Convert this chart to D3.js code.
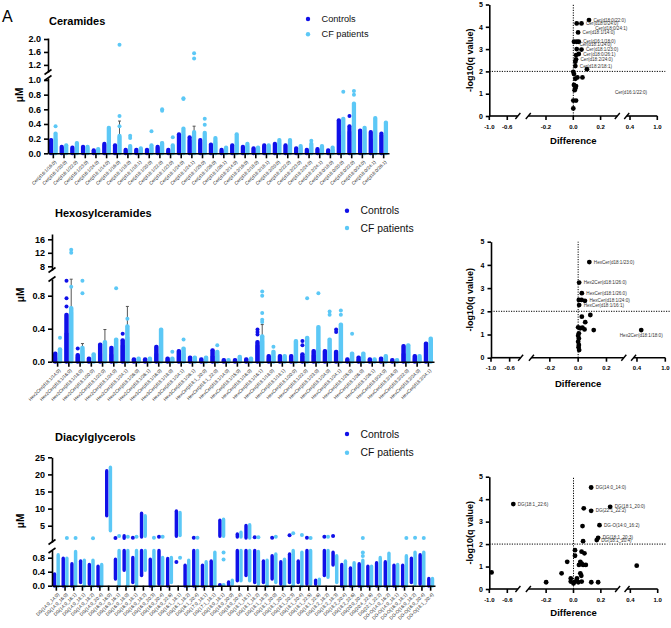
<!DOCTYPE html>
<html><head><meta charset="utf-8">
<script src="https://cdn.jsdelivr.net/npm/d3@7"></script>
<style>body{margin:0;background:#fff}svg{display:block}</style>
</head><body><svg id="c" width="671" height="628"></svg>
<script>
const CTRL = "#1010e8", CF = "#5cc8f6", FONT = "'Liberation Sans', Arial, Helvetica, sans-serif";

// ---------- Ceramides ----------
const cerCats = ["Cer(d16:1/16:0)","Cer(d16:1/20:0)","Cer(d16:1/22:0)","Cer(d16:1/23:0)","Cer(d16:1/24:0)","Cer(d18:1/14:0)","Cer(d18:1/16:0)","Cer(d18:1/18:0)","Cer(d18:1/18:1)","Cer(d18:1/20:0)","Cer(d18:1/22:0)","Cer(d18:1/23:0)","Cer(d18:1/24:0)","Cer(d18:1/24:1)","Cer(d18:1/25:0)","Cer(d18:1/26:0)","Cer(d18:1/26:1)","Cer(d18:2/14:0)","Cer(d18:2/16:0)","Cer(d18:2/18:0)","Cer(d18:2/18:1)","Cer(d18:2/20:0)","Cer(d18:2/22:0)","Cer(d18:2/23:0)","Cer(d18:2/24:0)","Cer(d18:2/24:1)","Cer(d18:0/18:0)","Cer(d18:0/20:0)","Cer(d18:0/22:0)","Cer(d18:0/24:0)","Cer(d18:0/24:1)","Cer(d18:0/26:1)"];
const cerCtrlMean = [0.17,0.08,0.07,0.08,0.03,0.12,0.10,0.04,0.05,0.05,0.08,0.04,0.22,0.18,0.15,0.11,0.04,0.10,0.08,0.06,0.10,0.12,0.10,0.06,0.05,0.06,0.04,0.25,0.30,0.28,0.20,0.25];
const cerCfMean   = [0.20,0.09,0.10,0.08,0.05,0.18,0.23,0.07,0.06,0.08,0.12,0.08,0.26,0.29,0.18,0.16,0.06,0.16,0.10,0.07,0.10,0.14,0.14,0.08,0.09,0.08,0.06,0.30,0.40,0.30,0.30,0.30];
const cerCtrlHi   = [0.18,0.09,0.08,0.09,0.04,0.13,0.11,0.05,0.05,0.05,0.09,0.05,0.26,0.22,0.18,0.12,0.05,0.11,0.09,0.07,0.11,0.13,0.11,0.07,0.05,0.06,0.04,0.45,0.37,0.31,0.29,0.27];
const cerCfHi     = [0.27,0.11,0.14,0.09,0.06,0.35,0.24,0.10,0.07,0.11,0.14,0.11,0.34,0.29,0.28,0.21,0.08,0.26,0.13,0.08,0.11,0.18,0.18,0.10,0.13,0.10,0.08,0.47,0.68,0.35,0.48,0.42];
const cerCtrlPts  = [[28,0.51]];
const cerCfPts    = [[0,0.37],[6,1.82],[6,0.51],[6,0.37],[7,0.24],[7,0.21],[9,0.30],[10,0.60],[10,0.58],[11,0.22],[12,0.75],[12,0.74],[13,1.56],[13,1.40],[14,0.47],[14,0.39],[24,0.17],[27,0.84],[28,0.85],[28,0.80]];
const cerCfErr    = [[6,0.44],[10,0.15],[13,0.37]];

// ---------- Hexosylceramides ----------
const hexCats = ["Hex2Cer(d18:1/14:0)","Hex2Cer(d18:1/16:0)","Hex2Cer(d18:1/18:0)","Hex2Cer(d18:1/20:0)","Hex2Cer(d18:1/22:0)","Hex2Cer(d18:1/24:0)","Hex2Cer(d18:1/24:1)","Hex2Cer(d18:1/26:0)","Hex2Cer(d18:1/26:1)","Hex3Cer(d18:1/16:0)","Hex3Cer(d18:1/18:0)","Hex3Cer(d18:1/24:1)","Hex3Cer(d18:1/26:1)","HexCer(d18:1_20:0)","HexCer(d18:1_22:0)","HexCer(d18:1/14:0)","HexCer(d18:1/15:0)","HexCer(d18:1/16:0)","HexCer(d18:1/16:1)","HexCer(d18:1/18:0)","HexCer(d18:1/18:1)","HexCer(d18:1/20:0)","HexCer(d18:1/22:0)","HexCer(d18:1/23:0)","HexCer(d18:1/24:0)","HexCer(d18:1/24:1)","HexCer(d18:1/25:0)","HexCer(d18:1/26:0)","HexCer(d18:1/26:1)","HexCer(d18:0/24:0)","HexCer(d18:2/16:0)","HexCer(d18:2/22:0)","HexCer(d18:2/24:0)","HexCer(d18:2/24:1)"];
const hexCtrlMean = [0.05,0.35,0.06,0.03,0.10,0.09,0.20,0.02,0.02,0.10,0.03,0.07,0.03,0.02,0.07,0.01,0.01,0.02,0.20,0.04,0.04,0.04,0.07,0.08,0.07,0.10,0.02,0.03,0.02,0.02,0.01,0.10,0.04,0.12];
const hexCfMean   = [0.08,0.60,0.14,0.05,0.18,0.15,0.30,0.03,0.03,0.20,0.03,0.10,0.03,0.03,0.08,0.01,0.03,0.03,0.25,0.07,0.05,0.10,0.15,0.17,0.15,0.10,0.06,0.06,0.02,0.04,0.01,0.12,0.05,0.15];
const hexCtrlHi   = [0.10,0.57,0.08,0.04,0.21,0.17,0.26,0.03,0.03,0.18,0.04,0.13,0.05,0.03,0.14,0.02,0.02,0.03,0.24,0.07,0.07,0.07,0.09,0.13,0.13,0.12,0.03,0.05,0.03,0.04,0.02,0.19,0.07,0.22];
const hexCfHi     = [0.15,0.65,0.17,0.09,0.24,0.27,0.43,0.04,0.04,0.39,0.04,0.16,0.05,0.05,0.12,0.02,0.06,0.04,0.31,0.12,0.07,0.25,0.29,0.42,0.27,0.45,0.10,0.10,0.03,0.07,0.02,0.20,0.07,0.28];
const hexCtrlPts  = [[1,0.98],[1,0.77],[1,0.67],[2,0.16],[6,0.34],[18,0.39],[18,0.36],[18,0.33],[22,0.25],[22,0.20],[25,0.39],[25,0.36]];
const hexCfPts    = [[0,0.29],[1,12.9],[1,12.0],[1,0.91],[2,0.98],[2,0.83],[5,0.89],[6,0.52],[10,0.12],[11,0.27],[14,0.20],[18,0.85],[18,0.80],[18,0.59],[18,0.51],[18,0.48],[19,0.18],[22,0.77],[23,0.83],[24,0.61],[24,0.57],[25,0.62],[25,0.57],[26,0.34]];
const hexCfErr    = [[1,1.0],[2,0.22],[4,0.39],[6,0.67],[18,0.45]];

// ---------- Diacylglycerols ----------
const dagCats = ["DG(14:0_14:0)","DG(14:0_16:0)","DG(14:0_16:1)","DG(14:0_18:1)","DG(14:0_18:2)","DG(14:0_20:4)","DG(16:0_16:0)","DG(16:0_16:1)","DG(16:0_18:0)","DG(16:0_18:1)","DG(16:0_18:2)","DG(16:0_20:3)","DG(16:0_20:4)","DG(16:0_22:6)","DG(16:1_18:1)","DG(16:1_18:2)","DG(16:1_20:4)","DG(17:0_18:1)","DG(17:1_18:1)","DG(18:0_18:1)","DG(18:0_20:0)","DG(18:0_20:4)","DG(18:1_18:1)","DG(18:1_18:2)","DG(18:1_18:3)","DG(18:1_20:0)","DG(18:1_20:1)","DG(18:1_20:3)","DG(18:1_20:4)","DG(18:1_22:5)","DG(18:1_22:6)","DG(18:2_18:2)","DG(18:2_18:3)","DG(18:2_20:4)","DG(18:2_22:6)","DG(20:0_20:4)","DG(20:4_22:6)","DG(22:1_22:2)","DG-O(14:0_16:2)","DG-O(14:0_18:1)","DG-O(16:0_18:1)","DG-O(16:0_18:2)","DG-O(16:0_20:4)","DG-O(18:1_20:4)"];
const dagCtrlLo = [0,0,0,0.1,0.05,0,null,0.2,0.45,0.1,0.3,0,0.05,0,null,0,0,0,0,null,0.02,0.15,0.3,0.1,0.1,0.2,0.05,0.1,0.1,0.05,0.05,0.3,0.6,0,0,0,0,0,0,0,0,0.1,0.05,0];
const dagCtrlHi = [0.33,0.78,0.62,0.70,0.60,0.55,null,0.75,1.0,0.80,1.0,0.75,1.0,0.77,null,0.58,1.0,0.58,0.70,null,0.10,1.0,1.0,1.0,0.70,0.85,0.68,0.90,0.70,1.0,0.15,1.0,0.95,0.60,0.50,0.62,0.55,0.65,0.68,0.58,0.58,0.78,0.88,0.20];
const dagCfLo   = [0,0,0,0,0,0,null,0,0,0,0.45,0,0.05,0.1,null,0,0,0,0,null,0.05,0.15,0.15,0.05,0,0.1,0,0,0,0.05,0.05,0.25,0.1,0,0,0,0,0,0,0,0,0.05,0,0];
const dagCfHi   = [0.88,0.78,0.97,0.72,0.72,0.60,null,1.0,1.0,1.0,1.0,1.0,0.80,0.80,null,0.72,1.0,0.68,0.95,null,0.15,1.0,1.0,0.97,0.72,0.90,0.75,1.0,0.95,1.0,0.18,1.0,0.85,0.70,0.65,0.72,0.55,0.80,0.92,0.60,0.85,0.95,0.95,0.20];
const dagCtrlUp = [[6,8,21],[8,1.4,2.0],[10,1.8,8.6],[14,2,9.2],[19,2,6.5],[21,1.8,2.5],[22,1.5,5.0]];
const dagCfUp   = [[6,3.6,22],[10,2.0,7.8],[14,2.2,8.8],[19,2,6.8],[21,1.8,3.0],[22,1.5,5.2]];
const dagCtrlPts = [[7,1.4],[9,1.5],[12,1.8],[14,0.68],[16,1.5],[19,0.02],[23,1.6],[25,1.5],[27,2.2],[29,1.5],[31,1.8],[32,2.0]];
const dagCfPts   = [[1,1.4],[2,1.4],[4,1.3],[7,2.0],[8,1.8],[9,1.8],[11,1.5],[12,1.8],[14,0.8],[16,1.5],[19,0.95],[19,0.75],[19,0.02],[23,1.6],[25,1.8],[27,2.8],[28,2.3],[29,1.4],[31,1.8],[35,0.85],[35,0.95],[35,1.4],[40,1.4],[41,1.5],[42,1.4]];

// ---------- Volcano plots ----------
const cerVolcDiff  = [0.115,0.025,0.06,0.035,0.005,0.025,0.04,0.06,0.025,0.04,0.02,0.02,0.015,0.015,0.10,0.0,0.005,0.03,0.067,0.015,0.005,0.02,0.015,0.01,0.0,0.02,0.0];
const cerVolcQ     = [4.3,4.15,4.15,3.75,3.33,3.33,3.33,2.98,3.0,2.78,2.73,2.54,2.43,2.24,2.1,1.98,1.88,1.73,1.73,1.67,1.39,1.34,1.24,1.16,0.69,0.69,0.34];
const cerVolcLabel = ["Cer(d18:0/22:0)","","Cer(d18:0/24:0)","Cer(d18:1/14:0)","","","Cer(d16:1/18:0)","Cer(d18:1/23:0)","","Cer(d18:0/26:1)","","Cer(d18:2/24:0)","","Cer(d18:2/18:1)","","","","","","","","","","","","",""];
const cerVolcNotes = [["Cer(d18:0/24:1)",0.16,3.95],["Cer(d18:1/24:0)",0.045,3.22],["Cer(d16:1/22:0)",0.305,1.08]];

const hexVolcDiff  = [0.079,0.007,0.026,0.005,0.024,0.048,0.007,0.026,0.086,0.05,0.0,0.015,0.03,0.045,0.11,0.005,0.0,0.005,0.0,0.005,0.007,0.003,0.49];
const hexVolcQ     = [4.12,3.24,2.78,2.49,2.49,2.45,2.27,1.77,1.84,1.53,1.31,1.27,1.3,1.22,1.19,1.05,0.95,0.83,0.69,0.55,0.33,0.45,1.19];
const hexVolcLabel = ["HexCer(d18:1/23:0)","Hex2Cer(d18:1/26:0)","HexCer(d18:1/26:0)","","","HexCer(d18:1/24:0)","HexCer(d18:1/16:1)","","","","","","","","","","","","","","","","Hex2Cer(d18:1/18:0)"];

const dagVolcDiff  = [0.129,-0.44,0.268,0.075,0.129,0.19,0.066,0.18,0.17,0.07,0.011,0.011,0.059,0.08,-0.046,0.05,0.06,0.04,0.07,0.09,-0.087,0.05,0.057,0.025,-0.02,-0.02,0.0,0.011,0.035,0.06,0.13,0.18,-0.2,-0.95,0.54];
const dagVolcQ     = [4.52,3.78,3.66,3.59,3.48,2.84,2.8,2.28,2.18,2.13,1.73,1.48,1.66,1.59,1.21,1.21,1.13,1.07,1.07,1.07,0.7,0.7,0.59,0.47,0.47,0.33,0.25,0.33,0.3,0.33,0.3,0.3,0.3,0.74,1.04];
const dagVolcLabel = ["DG(14:0_14:0)","DG(18:1_22:6)","DG(18:1_20:0)","","DG(22:1_22:2)","DG-O(14:0_16:2)","","DG(18:1_20:3)","DG(18:1_20:4)","","","","","","","","","","","","","","","","","","","","","","","","","",""];

const svg = d3.select("#c").attr("font-family", FONT);

function styleAxis(g, fs, bold) {
  g.attr("font-family", FONT).attr("font-size", fs).attr("font-weight", bold ? "bold" : "normal");
  g.select(".domain").attr("stroke", "#000").attr("stroke-width", 1.6);
  g.selectAll(".tick line").attr("stroke", "#000").attr("stroke-width", 1.6);
  g.selectAll(".tick text").attr("fill", "#000");
}

function barPanel(o) {
  const g = svg.append("g");
  const x = d3.scaleBand().domain(o.cats).range(o.xRange);
  const bw = x.bandwidth();
  const low = d3.scaleLinear().domain([0, 1]).range([o.y0, o.y1]);
  const up = d3.scaleLinear().domain(o.upDom).range(o.upRange);
  const y = v => (v <= 1 ? low(v) : up(v));
  const cx = (i, s) => x(o.cats[i]) + bw / 2 + s * bw * 0.21;
  const barW = bw * 0.34, sw = bw * 0.4, r = 2;

  // bars (means)
  [[o.ctrlMean, -1, CTRL], [o.cfMean, 1, CF]].forEach(([arr, s, col]) => {
    if (!arr) return;
    g.append("g").selectAll("rect").data(arr).join("rect")
      .attr("x", (d, i) => cx(i, s) - barW / 2).attr("width", barW)
      .attr("y", d => y(d)).attr("height", d => o.y0 - y(d)).attr("fill", col);
  });
  // error bars
  if (o.cfErr) {
    const eg = g.append("g").attr("stroke", "#555").attr("stroke-width", 1);
    o.cfErr.forEach(([i, v]) => {
      const xx = cx(i, 1);
      eg.append("line").attr("x1", xx).attr("x2", xx).attr("y1", y(o.cfMean[i])).attr("y2", y(v));
      eg.append("line").attr("x1", xx - 1.5).attr("x2", xx + 1.5).attr("y1", y(v)).attr("y2", y(v));
    });
  }
  // dense point clouds drawn as strips + individual points
  [[o.ctrlLo, o.ctrlHi, o.ctrlUp, o.ctrlPts, -1, CTRL], [o.cfLo, o.cfHi, o.cfUp, o.cfPts, 1, CF]].forEach(([lo, hi, upr, pts, s, col]) => {
    const sg = g.append("g").attr("fill", col);
    hi.forEach((h, i) => {
      if (h == null) return;
      const l = lo ? lo[i] : 0;
      sg.append("rect").attr("x", cx(i, s) - sw / 2).attr("width", sw)
        .attr("y", y(h) - r).attr("height", y(l) - y(h) + 2 * r).attr("rx", r);
    });
    (upr || []).forEach(([i, l, h]) => {
      sg.append("rect").attr("x", cx(i, s) - sw / 2).attr("width", sw)
        .attr("y", y(h) - r).attr("height", y(l) - y(h) + 2 * r).attr("rx", r);
    });
    sg.selectAll("circle").data(pts || []).join("circle")
      .attr("cx", d => cx(d[0], s)).attr("cy", d => y(d[1])).attr("r", r);
  });

  // x axis
  const xa = g.append("g").attr("transform", `translate(0,${o.y0})`)
    .call(d3.axisBottom(x).tickSize(5).tickSizeOuter(0));
  styleAxis(xa, 4.6, false);
  xa.selectAll(".tick text").attr("x", 0).attr("y", 0).attr("dy", "0.35em")
    .attr("transform", "translate(2,8) rotate(-45)").style("text-anchor", "end").attr("fill", "#222");

  // y axis, two segments with break marks
  const lowAx = d3.scaleLinear().domain([0, low.invert(o.lowTopY)]).range([o.y0, o.lowTopY]);
  const upAx = d3.scaleLinear().domain([up.invert(o.upBotY), up.invert(o.upTopY)]).range([o.upBotY, o.upTopY]);
  const ya1 = g.append("g").attr("transform", `translate(${o.axX},0)`)
    .call(d3.axisLeft(lowAx).tickValues(o.lowTicks).tickFormat(d3.format(".1f")).tickSize(4).tickSizeOuter(0));
  styleAxis(ya1, 9, true);
  const ya2 = g.append("g").attr("transform", `translate(${o.axX},0)`)
    .call(d3.axisLeft(upAx).tickValues(o.upTicks).tickFormat(d3.format(o.upFmt)).tickSize(4).tickSizeOuter(0));
  styleAxis(ya2, 9, true);
  [o.upBotY, o.lowTopY].forEach(yy => {
    g.append("line").attr("x1", o.axX - 3.5).attr("x2", o.axX + 3.5).attr("y1", yy + 2.5).attr("y2", yy - 2.5)
      .attr("stroke", "#000").attr("stroke-width", 1.6);
  });

  // texts
  g.append("text").attr("x", o.titleX).attr("y", o.titleY).text(o.title)
    .attr("font-size", 11).attr("font-weight", "bold").attr("fill", "#000");
  g.append("text").attr("transform", `translate(${o.muX},${o.muY}) rotate(-90)`).attr("text-anchor", "middle")
    .attr("dominant-baseline", "central").attr("font-size", 10).attr("font-weight", "bold").text("μM");
  [["Controls", CTRL, o.legY[0]], ["CF patients", CF, o.legY[1]]].forEach(([t, c, ly]) => {
    g.append("circle").attr("cx", o.legX).attr("cy", ly).attr("r", 2.2).attr("fill", c);
    g.append("text").attr("x", o.legX + 13.5).attr("y", ly).attr("dominant-baseline", "central")
      .attr("font-size", o.legFs).attr("fill", "#111").text(t);
  });
}

function volcano(o) {
  const g = svg.append("g");
  const w = o.w, x0 = o.x0;
  const s1 = d3.scaleLinear().domain([-1, -0.6]).range([x0, x0 + 0.107 * w]);
  const s2 = d3.scaleLinear().domain([0, 0.2]).range([x0 + 0.5 * w, x0 + 0.6625 * w]);
  const s3 = d3.scaleLinear().domain([0.4, 1]).range([x0 + 0.8375 * w, x0 + w]);
  const xs = v => (v < -0.45 ? s1(v) : v > 0.33 ? s3(v) : s2(v));
  const ys = d3.scaleLinear().domain([0, 5]).range([o.y0, o.y5]);

  // dotted reference lines
  g.append("line").attr("x1", x0).attr("x2", x0 + w + 8).attr("y1", ys(2)).attr("y2", ys(2))
    .attr("stroke", "#000").attr("stroke-width", 1).attr("stroke-dasharray", "1.2,1.3");
  g.append("line").attr("x1", xs(0)).attr("x2", xs(0)).attr("y1", o.y0).attr("y2", ys(5))
    .attr("stroke", "#000").attr("stroke-width", 1).attr("stroke-dasharray", "1.2,1.3");

  // x axis segments
  const segs = [[0, 0.17], [0.232, 0.762], [0.818, 1]];
  segs.forEach(([a, b]) => g.append("line").attr("x1", x0 + a * w).attr("x2", x0 + b * w)
    .attr("y1", o.y0).attr("y2", o.y0).attr("stroke", "#000").attr("stroke-width", 1.6));
  [0.17, 0.232, 0.762, 0.818].forEach(f => g.append("line")
    .attr("x1", x0 + f * w - 2.5).attr("x2", x0 + f * w + 2.5).attr("y1", o.y0 + 3).attr("y2", o.y0 - 3)
    .attr("stroke", "#000").attr("stroke-width", 1.4));
  const xt = [-1.0, -0.6, -0.2, 0.0, 0.2, 0.4, 1.0];
  const tg = g.append("g");
  tg.selectAll("line").data(xt).join("line").attr("x1", d => xs(d)).attr("x2", d => xs(d))
    .attr("y1", o.y0).attr("y2", o.y0 + 4).attr("stroke", "#000").attr("stroke-width", 1.6);
  tg.selectAll("text").data(xt).join("text").attr("x", d => xs(d)).attr("y", o.y0 + 12.5)
    .attr("text-anchor", "middle").attr("font-size", 6).attr("font-weight", "bold").text(d => d.toFixed(1));

  // y axis
  const ya = g.append("g").attr("transform", `translate(${x0},0)`)
    .call(d3.axisLeft(ys).tickValues([0, 1, 2, 3, 4, 5]).tickFormat(d3.format("d")).tickSize(3.5).tickSizeOuter(0));
  styleAxis(ya, 7, true);

  // points and labels
  g.append("g").selectAll("circle").data(o.diff).join("circle")
    .attr("cx", d => xs(d)).attr("cy", (d, i) => ys(o.q[i])).attr("r", 2.4).attr("fill", "#000");
  const lg = g.append("g").attr("font-size", 4.6).attr("fill", "#333");
  o.labels.forEach((t, i) => {
    if (!t) return;
    const px = xs(o.diff[i]), py = ys(o.q[i]);
    if (o.diff[i] > 0.33) {
      lg.append("text").attr("x", px).attr("y", py + 7).attr("text-anchor", "middle").text(t);
    } else {
      lg.append("text").attr("x", px + 4.5).attr("y", py + 1.6).text(t);
    }
  });
  (o.notes || []).forEach(([t, d, q]) => lg.append("text").attr("x", xs(d)).attr("y", ys(q) + 1.6).text(t));

  g.append("text").attr("x", xs(0)).attr("y", o.diffY).attr("text-anchor", "middle")
    .attr("dominant-baseline", "central").attr("font-size", 9.5).attr("font-weight", "bold").text("Difference");
  g.append("text").attr("transform", `translate(470,${(o.y0 + o.y5) / 2}) rotate(-90)`).attr("text-anchor", "middle")
    .attr("dominant-baseline", "central").attr("font-size", 9).attr("font-weight", "bold").text("-log10(q value)");
}

svg.append("text").attr("x", 2).attr("y", 22).attr("font-size", 16).attr("fill", "#000").text("A");

barPanel({cats: cerCats, ctrlMean: cerCtrlMean, cfMean: cerCfMean, ctrlHi: cerCtrlHi, cfHi: cerCfHi,
  ctrlPts: cerCtrlPts, cfPts: cerCfPts, cfErr: cerCfErr,
  xRange: [48, 389], axX: 48, y0: 153.3, y1: 80, upDom: [1.2, 2.0], upRange: [64.9, 39],
  lowTopY: 78, upBotY: 72, upTopY: 38, lowTicks: [0, 0.2, 0.4, 0.6, 0.8, 1.0], upTicks: [1.2, 1.6, 2.0], upFmt: ".1f",
  title: "Ceramides", titleX: 49, titleY: 24.5, muX: 19, muY: 95, legX: 308, legY: [19, 34.3], legFs: 9.2});

barPanel({cats: hexCats, ctrlMean: hexCtrlMean, cfMean: hexCfMean, ctrlHi: hexCtrlHi, cfHi: hexCfHi,
  ctrlPts: hexCtrlPts, cfPts: hexCfPts, cfErr: hexCfErr,
  xRange: [52, 434], axX: 52, y0: 361.7, y1: 279.2, upDom: [8, 16], upRange: [266.3, 239.3],
  lowTopY: 279, upBotY: 270, upTopY: 234, lowTicks: [0, 0.4, 0.8], upTicks: [8, 12, 16], upFmt: "d",
  title: "Hexosylceramides", titleX: 55, titleY: 216.7, muX: 20, muY: 295, legX: 347, legY: [210.7, 228], legFs: 10.4});

barPanel({cats: dagCats, ctrlLo: dagCtrlLo, ctrlHi: dagCtrlHi, cfLo: dagCfLo, cfHi: dagCfHi,
  ctrlUp: dagCtrlUp, cfUp: dagCfUp, ctrlPts: dagCtrlPts, cfPts: dagCfPts,
  xRange: [52, 435], axX: 52, y0: 585.7, y1: 550.7, upDom: [5, 25], upRange: [525.7, 457.3],
  lowTopY: 550.5, upBotY: 542, upTopY: 457.3, lowTicks: [0, 0.4, 0.8], upTicks: [5, 10, 15, 20, 25], upFmt: "d",
  title: "Diacylglycerols", titleX: 55, titleY: 441, muX: 20, muY: 521, legX: 347, legY: [434, 452.7], legFs: 10.4});

volcano({x0: 489.3, w: 168, y0: 116, y5: 4.5, diffY: 140, diff: cerVolcDiff, q: cerVolcQ, labels: cerVolcLabel, notes: cerVolcNotes});
volcano({x0: 491, w: 174.3, y0: 357.7, y5: 241.7, diffY: 383, diff: hexVolcDiff, q: hexVolcQ, labels: hexVolcLabel});
volcano({x0: 489.3, w: 168.4, y0: 589, y5: 476.7, diffY: 612, diff: dagVolcDiff, q: dagVolcQ, labels: dagVolcLabel});
</script>
</body></html>
